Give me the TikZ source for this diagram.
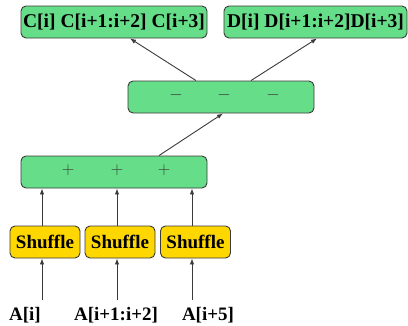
\documentclass[tikz,border=0pt]{standalone}
\usepackage{fontspec}
\setmainfont{Liberation Serif}
\usepackage{tikz}
\usetikzlibrary{calc,arrows.meta}
\definecolor{boxgreen}{HTML}{66DD88}
\definecolor{boxgold}{HTML}{FFD700}
\definecolor{edgegray}{HTML}{3A3A3A}
\tikzset{
  opbox/.style={draw=edgegray, fill=boxgreen, rounded corners=5pt, line width=0.9pt,
                minimum width=186pt, minimum height=32pt, inner sep=0pt},
  shufbox/.style={draw=edgegray, fill=boxgold, rounded corners=5pt, line width=0.9pt,
                  minimum width=70pt, minimum height=32pt, inner sep=0pt,
                  font=\fontsize{19}{21}\selectfont\bfseries},
  sign/.style={font=\fontsize{17}{19}\selectfont, text=edgegray, inner sep=0pt},
  lab/.style={font=\fontsize{19}{21}\selectfont\bfseries, inner sep=0pt},
  flow/.style={-{Latex[length=6pt,width=4.5pt]}, draw=edgegray, line width=0.9pt}
}
\begin{document}
\begin{tikzpicture}[x=1pt,y=-1pt]
  \useasboundingbox (0,0) rectangle (408,325);

  % results
  \node[opbox, font=\fontsize{19.5}{21}\selectfont\bfseries] (cout) at (114,22) {C[i] C[i+1:i+2] C[i+3]};
  \node[opbox, minimum width=183pt, font=\fontsize{19.5}{21}\selectfont\bfseries] (dout) at (315.5,22) {D[i] D[i+1:i+2]D[i+3]};

  % subtract stage
  \node[opbox] (sub) at (221,97) {};
  \node[sign] (m1) at (176,95) {$-$};
  \node[sign] (m2) at (224,95) {$-$};
  \node[sign] (m3) at (273,95) {$-$};

  % add stage
  \node[opbox] (add) at (114,172) {};
  \node[sign] (p1) at (68,170.5) {$+$};
  \node[sign] (p2) at (117,170.5) {$+$};
  \node[sign] (p3) at (164,170.5) {$+$};

  % shuffles
  \node[shufbox] (sh1) at (45,242) {Shuffle};
  \node[shufbox] (sh2) at (120,242) {Shuffle};
  \node[shufbox] (sh3) at (195.5,242) {Shuffle};

  % inputs
  \node[lab] (a1) at (25,315) {A[i]};
  \node[lab] (a2) at (116,315) {A[i+1:i+2]};
  \node[lab] (a3) at (208,315) {A[i+5]};
  \coordinate (in1) at (42,300);
  \coordinate (in2) at (117,300);
  \coordinate (in3) at (192,300);

  \draw[flow] (in1) -- (in1 |- sh1.south);
  \draw[flow] (in2) -- (in2 |- sh2.south);
  \draw[flow] (in3) -- (in3 |- sh3.south);

  \draw[flow] (in1 |- sh1.north) -- (in1 |- add.south);
  \draw[flow] (in2 |- sh2.north) -- (in2 |- add.south);
  \draw[flow] (in3 |- sh3.north) -- (in3 |- add.south);

  \draw[flow] ([xshift=45pt]add.north) -- ([xshift=2pt]sub.south);
  \draw[flow] ([xshift=-25pt]sub.north) -- ([xshift=16pt]cout.south);
  \draw[flow] ([xshift=30pt]sub.north) -- ([xshift=1.5pt]dout.south);
\end{tikzpicture}
\end{document}
